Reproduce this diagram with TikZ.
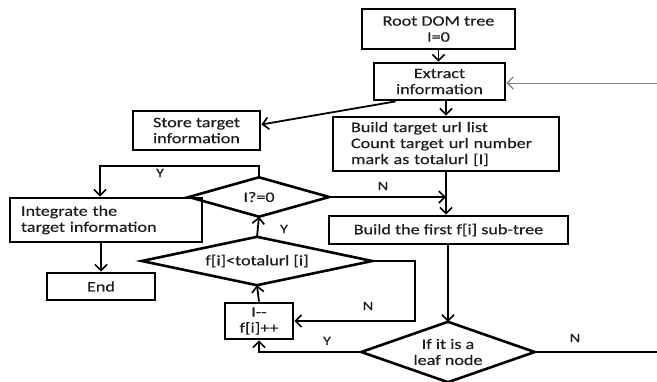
\documentclass[tikz,border=0pt]{standalone}
\usepackage{fontspec}
\setmainfont{Carlito}[FakeStretch=1.25, FakeBold=0.4]
\usetikzlibrary{arrows.meta,calc}
\definecolor{ink}{HTML}{1E1E1E}
\begin{document}
\begin{tikzpicture}[x=1pt,y=-1pt,
  every node/.style={font=\fontsize{14.5}{16}\selectfont, text=ink},
  box/.style={draw=black, line width=2.8pt, rectangle, inner sep=0pt, align=center},
  dia/.style={rectangle, inner sep=0pt, align=center},
  diaedge/.style={draw=black, line width=2.6pt, line join=miter},
  arr/.style={draw=black, line width=1.8pt, -{Straight Barb[length=6pt,width=12pt,line width=1.6pt]}},
  flow/.style={draw=black, line width=1.8pt},
  thinarr/.style={draw=gray, line width=0.9pt, -{Straight Barb[length=6pt,width=12pt,line width=1.2pt]}},
  lbl/.style={font=\fontsize{13}{15}\selectfont, inner sep=0pt}
]
\useasboundingbox (0,0) rectangle (657,381);
\clip (0,0) rectangle (657,381);
\fill[white] (0,0) rectangle (657,381);

% process boxes
\node[box, minimum width=153, minimum height=40] (root) at (438.5,29) {Root DOM tree\\I=0};
\node[box, minimum width=131, minimum height=37] (ext) at (439.5,81.5) {Extract\\information};
\node[box, minimum width=127, minimum height=39] (store) at (196.5,130.5) {Store target\\information};
\node[box, minimum height=54, text width=190, inner xsep=18, align=left] (bt) at (446,144)
  {Build target url list\\Count target url number\\mark as totalurl [I]};
\node[box, minimum height=44, text width=170, inner xsep=11, align=left] (integ) at (106,220)
  {Integrate the\\target information};
\node[box, minimum width=108, minimum height=27] (end) at (101,286.5) {End};
\node[box, minimum width=239, minimum height=28] (bf) at (448.5,230) {Build the first f[i] sub-tree};
\node[box, minimum width=68, minimum height=36] (inc) at (259,321) {I{-}{-}\\f[i]{+}{+}};

% decisions: the node holds the text, its four side anchors are the diamond's corners
\node[dia, minimum width=140, minimum height=39] (d1) at (259,197) {I?=0};
\node[dia, minimum width=230, minimum height=48] (d2) at (257,261) {f[i]<totalurl [i]};
\node[dia, minimum width=173, minimum height=60] (leaf) at (448,352) {If it is a\\leaf node};
\foreach \d in {d1,d2,leaf}
  \draw[diaedge] (\d.north) -- (\d.east) -- (\d.south) -- (\d.west) -- cycle;

% free ends at the right margin
\coordinate (inN) at (657,83);
\coordinate (outS) at (657,352);

% connectors
\draw[arr] (root.south) -- (root.south |- ext.north);
\draw[arr] (bt.north |- ext.south) -- (bt.north);
\draw[arr] ($(ext.south west)+(23,0)$) -- ($(store.east)+(0,-6)$);
\draw[thinarr] (inN) -- (ext.east |- inN);
\draw[arr] (d1.north) -- (d1.north |- 0,166) -| ($(integ.north)+(-6,0)$);
\draw[arr] (d1.east) -- (d1.east -| bt.south);
\draw[arr] (bt.south) -- (bt.south |- bf.north);
\draw[arr] (end.north |- integ.south) -- (end.north);
\draw[arr] (d2.north) -- (d1.south);
\draw[arr] (inc.north) -- (d2.south);
\draw[arr] (d2.east) -- ++(43,0) |- (inc.east);
\draw[arr] (bf.south -| leaf.north) -- (leaf.north);
\draw[arr] (leaf.west) -| (inc.south);
\draw[flow] (leaf.east) -- (outS);

% branch labels
\node[lbl] (y1) at (160,173) {Y};
\node[lbl] (n1) at (383,186) {N};
\node[lbl] (y2) at (284,229) {Y};
\node[lbl] (n2) at (368,306) {N};
\node[lbl] (y3) at (327,341) {Y};
\node[lbl] (n3) at (575,338) {N};
\end{tikzpicture}
\end{document}
